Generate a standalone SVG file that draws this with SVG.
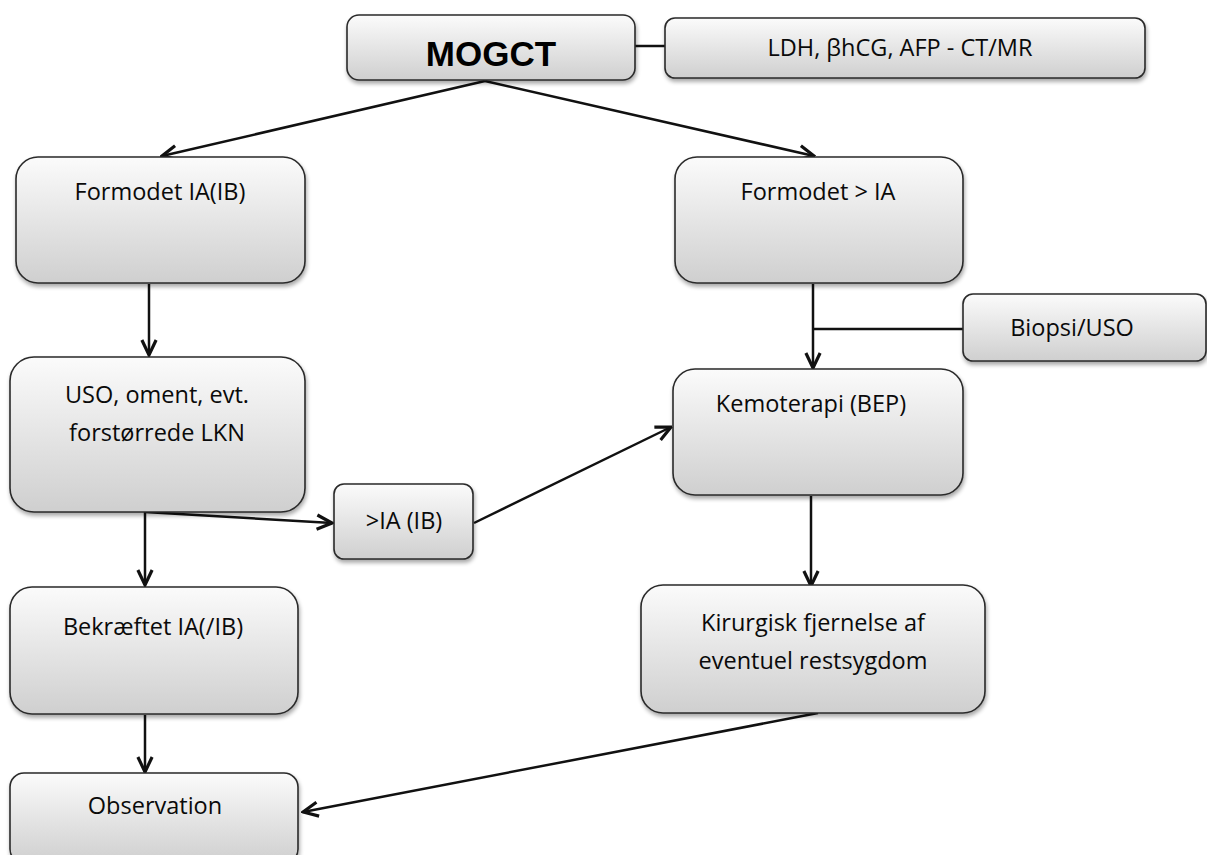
<svg xmlns="http://www.w3.org/2000/svg" width="1207" height="855" viewBox="0 0 1207 855">
<defs>
<linearGradient id="g" x1="0" y1="0" x2="0" y2="1">
<stop offset="0" stop-color="#fbfbfb"/>
<stop offset="1" stop-color="#cfcfcf"/>
</linearGradient>
<filter id="sh" x="-10%" y="-10%" width="130%" height="130%">
<feGaussianBlur in="SourceAlpha" stdDeviation="2"/>
<feOffset dx="1" dy="3"/>
<feComponentTransfer><feFuncA type="linear" slope="0.35"/></feComponentTransfer>
<feMerge><feMergeNode/><feMergeNode in="SourceGraphic"/></feMerge>
</filter>
<marker id="ah" viewBox="0 0 12 12" refX="11" refY="6" markerWidth="19" markerHeight="19" markerUnits="userSpaceOnUse" orient="auto">
<path d="M1.5,1.5 L11,6 L1.5,10.5" fill="none" stroke="#111" stroke-width="2" stroke-linejoin="miter"/>
</marker>
</defs>
<style>
.box{fill:url(#g);stroke:#2a2a2a;stroke-width:1.6;filter:url(#sh)}
.t{font-family:"Open Sans","Liberation Sans",sans-serif;font-size:23.5px;fill:#0a0a0a;text-anchor:middle}
.big{font-family:"Liberation Sans",sans-serif;font-size:35px;font-weight:bold;fill:#000;text-anchor:middle}
.c{fill:none;stroke:#111;stroke-width:2.5}
.a{marker-end:url(#ah)}
</style>
<rect width="1207" height="855" fill="#fff"/>
<g id="connectors">
<line class="c" x1="635" y1="46" x2="665" y2="46"/>
<line class="c a" x1="485" y1="81" x2="162" y2="156"/>
<line class="c a" x1="485" y1="81" x2="814" y2="156"/>
<line class="c a" x1="149" y1="284" x2="149" y2="355"/>
<line class="c a" x1="813" y1="284" x2="813" y2="368"/>
<line class="c" x1="813" y1="329" x2="963" y2="329"/>
<line class="c a" x1="145" y1="512" x2="332" y2="523"/>
<line class="c a" x1="145" y1="512" x2="145" y2="585"/>
<line class="c a" x1="474" y1="523" x2="671" y2="427"/>
<line class="c a" x1="811" y1="496" x2="811" y2="586"/>
<line class="c a" x1="145" y1="715" x2="145" y2="772"/>
<line class="c a" x1="818" y1="713" x2="303" y2="812"/>
</g>
<g id="n-mogct"><rect class="box" x="347" y="15" width="288" height="65" rx="12"/><text class="big" x="491" y="66">MOGCT</text></g>
<g id="n-ldh"><rect class="box" x="665" y="18" width="480" height="60" rx="10"/><text class="t" x="900" y="56">LDH, βhCG, AFP - CT/MR</text></g>
<g id="n-formodet-ia"><rect class="box" x="16" y="157" width="289" height="126" rx="22"/><text class="t" x="160" y="200">Formodet IA(IB)</text></g>
<g id="n-formodet-gt"><rect class="box" x="675" y="157" width="288" height="126" rx="22"/><text class="t" x="818" y="200">Formodet &gt; IA</text></g>
<g id="n-biopsi"><rect class="box" x="963" y="294" width="243" height="67" rx="10"/><text class="t" x="1072" y="336">Biopsi/USO</text></g>
<g id="n-uso"><rect class="box" x="10" y="357" width="295" height="155" rx="24"/><text class="t" x="157" y="403">USO, oment, evt.</text><text class="t" x="157" y="441">forstørrede LKN</text></g>
<g id="n-kemo"><rect class="box" x="673" y="369" width="290" height="126" rx="22"/><text class="t" x="811" y="412">Kemoterapi (BEP)</text></g>
<g id="n-iaib"><rect class="box" x="334" y="484" width="139" height="75" rx="10"/><text class="t" x="404" y="529">&gt;IA (IB)</text></g>
<g id="n-bekraeftet"><rect class="box" x="10" y="587" width="288" height="127" rx="22"/><text class="t" x="153" y="635">Bekræftet IA(/IB)</text></g>
<g id="n-kirurgisk"><rect class="box" x="641" y="585" width="344" height="128" rx="22"/><text class="t" x="813" y="631">Kirurgisk fjernelse af</text><text class="t" x="813" y="669">eventuel restsygdom</text></g>
<g id="n-observation"><rect class="box" x="10" y="773" width="288" height="90" rx="14"/><text class="t" x="155" y="814">Observation</text></g>
</svg>
